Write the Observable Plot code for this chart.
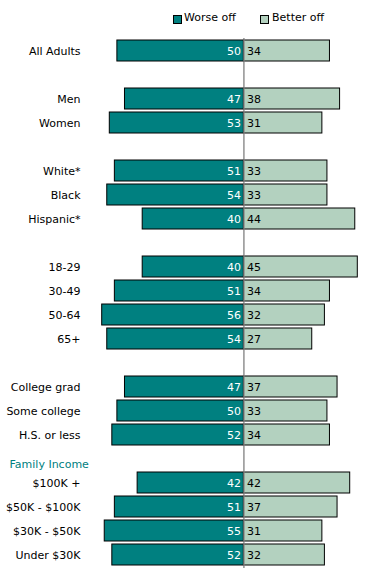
<!DOCTYPE html>
<html>
<head>
<meta charset="utf-8">
<script src="https://cdn.jsdelivr.net/npm/d3@7"></script>
<script src="https://cdn.jsdelivr.net/npm/@observablehq/plot@0.6"></script>
<style>
  html, body { margin: 0; padding: 0; background: #fff; }
  body { width: 374px; height: 581px; overflow: hidden; font-family: "DejaVu Sans", Verdana, sans-serif; }
  #legend { position: relative; height: 30px; width: 374px; font-size: 11px; color: #000; }
  .sw { position: absolute; top: 15px; width: 7px; height: 7px; border: 1px solid #000; }
  .lt { position: absolute; top: 11px; line-height: 14px; }
  #chart svg { display: block; }
</style>
</head>
<body>
<div id="legend">
  <div class="sw" style="left:173px; background:#008080"></div>
  <div class="lt" style="left:184px">Worse off</div>
  <div class="sw" style="left:260px; background:#b3d1bf"></div>
  <div class="lt" style="left:272px">Better off</div>
</div>
<div id="chart"></div>
<script>
// Row slots (blank keys are spacer rows)
const slots = ["All Adults", " 1", "Men", "Women", " 2", "White*", "Black", "Hispanic*", " 3",
  "18-29", "30-49", "50-64", "65+", " 4", "College grad", "Some college", "H.S. or less",
  "Family Income", "$100K +", "$50K - $100K", "$30K - $50K", "Under $30K"];
const categories = ["All Adults", "Men", "Women", "White*", "Black", "Hispanic*",
  "18-29", "30-49", "50-64", "65+", "College grad", "Some college", "H.S. or less",
  "$100K +", "$50K - $100K", "$30K - $50K", "Under $30K"];
const worseOff = [50, 47, 53, 51, 54, 40, 40, 51, 56, 54, 47, 50, 52, 42, 51, 55, 52];
const betterOff = [34, 38, 31, 33, 33, 44, 45, 34, 32, 27, 37, 33, 34, 42, 37, 31, 32];
const sectionHeaders = ["Family Income"];

const rows = categories.map((c, i) => ({cat: c, worse: worseOff[i], better: betterOff[i]}));

const teal = "#008080";
const light = "#b3d1bf";

const chart = Plot.plot({
  width: 374,
  height: 551,
  marginLeft: 85,
  marginRight: 0,
  marginTop: 5,
  marginBottom: 12,
  style: {fontFamily: "DejaVu Sans, Verdana, sans-serif", fontSize: "11px", color: "#000", background: "#fff"},
  x: {domain: [-62.6, 51.6], axis: null},
  y: {domain: slots, padding: 0.13, label: null, tickSize: 0, tickPadding: 5,
      tickFormat: d => (d.startsWith(" ") || sectionHeaders.includes(d)) ? "" : d},
  marks: [
    Plot.barX(rows, {y: "cat", x1: 0, x2: d => -d.worse, fill: teal, stroke: "#000", strokeWidth: 1}),
    Plot.barX(rows, {y: "cat", x1: 0, x2: "better", fill: light, stroke: "#000", strokeWidth: 1}),
    Plot.ruleX([0], {stroke: "#808080", strokeWidth: 1.3, insetTop: 3, insetBottom: 1}),
    Plot.text(rows, {y: "cat", x: 0, text: d => String(d.worse), textAnchor: "end", dx: -3, fill: "#fff", fontSize: 11}),
    Plot.text(rows, {y: "cat", x: 0, text: d => String(d.better), textAnchor: "start", dx: 3, fill: "#000", fontSize: 11}),
    Plot.text(sectionHeaders, {y: d => d, text: d => d, frameAnchor: "left", dx: -76, dy: 5, textAnchor: "start", fill: teal, fontSize: 11})
  ]
});
document.getElementById("chart").appendChild(chart);
</script>
</body>
</html>
